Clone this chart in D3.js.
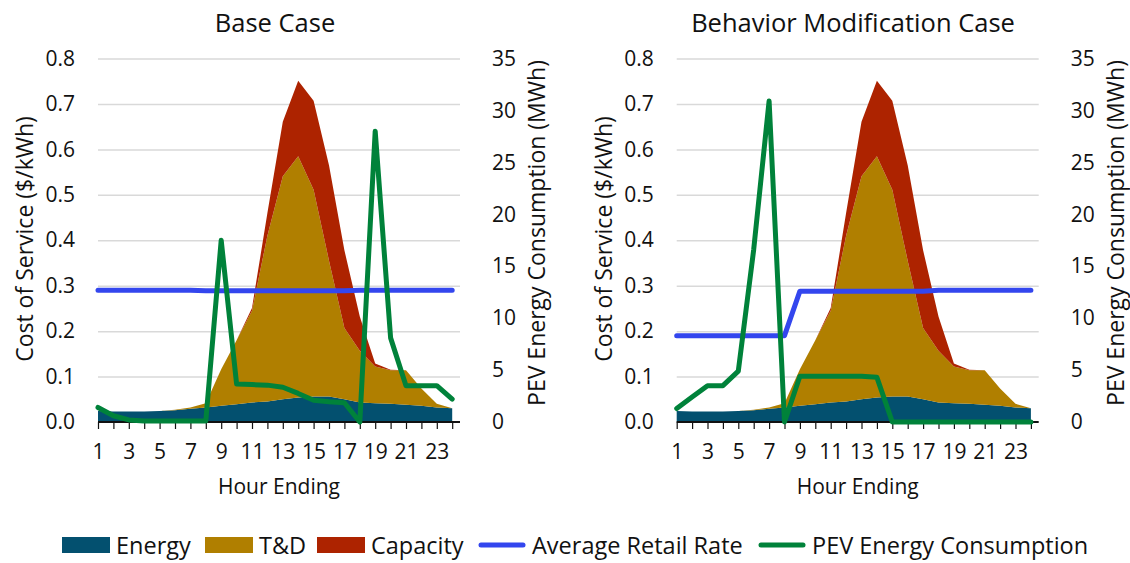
<!DOCTYPE html>
<html>
<head>
<meta charset="utf-8">
<script src="https://cdn.jsdelivr.net/npm/d3@7"></script>
<style>
  html, body { margin: 0; padding: 0; background: #ffffff; }
  svg text { font-family: "Open Sans", "Noto Sans", sans-serif; fill: #111111; }
</style>
</head>
<body>
<svg id="chart" width="1130" height="563"></svg>
<script>
// Hour-ending categories
const hours = [1, 2, 3, 4, 5, 6, 7, 8, 9, 10, 11, 12, 13, 14, 15, 16, 17, 18, 19, 20, 21, 22, 23, 24];
const hourLabels = [1, 3, 5, 7, 9, 11, 13, 15, 17, 19, 21, 23];

// Cost of service components ($/kWh), stacked
const energyCost = [0.024, 0.023, 0.023, 0.023, 0.024, 0.026, 0.029, 0.032, 0.036, 0.039, 0.043, 0.045,
                    0.050, 0.054, 0.056, 0.056, 0.050, 0.043, 0.041, 0.040, 0.038, 0.036, 0.032, 0.030];
const tdCost     = [0.000, 0.000, 0.000, 0.000, 0.000, 0.001, 0.003, 0.009, 0.080, 0.141, 0.202, 0.365,
                    0.491, 0.531, 0.455, 0.299, 0.157, 0.114, 0.081, 0.074, 0.076, 0.038, 0.008, 0.000];
const capacityCost = [0, 0, 0, 0, 0, 0, 0, 0, 0, 0, 0.006, 0.050,
                      0.120, 0.166, 0.196, 0.210, 0.171, 0.075, 0.007, 0.001, 0, 0, 0, 0];

// Average retail rate ($/kWh)
const baseRate = [0.290, 0.290, 0.290, 0.290, 0.290, 0.290, 0.290, 0.289, 0.289, 0.289, 0.289, 0.289,
                  0.289, 0.289, 0.289, 0.289, 0.289, 0.290, 0.290, 0.290, 0.290, 0.290, 0.290, 0.290];
const touRate  = [0.190, 0.190, 0.190, 0.190, 0.190, 0.190, 0.190, 0.190, 0.288, 0.288, 0.288, 0.288,
                  0.288, 0.288, 0.288, 0.288, 0.288, 0.290, 0.290, 0.290, 0.290, 0.290, 0.290, 0.290];

// PEV energy consumption (MWh)
const basePEV = [1.4, 0.6, 0.2, 0.1, 0.1, 0.1, 0.1, 0.1, 17.5, 3.65, 3.6, 3.55,
                 3.35, 2.75, 2.1, 1.95, 1.85, 0.0, 28.0, 8.1, 3.5, 3.5, 3.5, 2.2];
const touPEV  = [1.3, 2.4, 3.5, 3.5, 4.9, 16.6, 30.9, 0.0, 4.4, 4.4, 4.4, 4.4,
                 4.4, 4.3, 0.0, 0.0, 0.0, 0.0, 0.0, 0.0, 0.0, 0.0, 0.0, 0.0];

// Axis ticks
const costTicks = [0, 0.1, 0.2, 0.3, 0.4, 0.5, 0.6, 0.7, 0.8];
const pevTicks = [0, 5, 10, 15, 20, 25, 30, 35];

const panelTitles = ["Base Case", "Behavior Modification Case"];
const seriesNames = ["Energy", "T&D", "Capacity", "Average Retail Rate", "PEV Energy Consumption"];

const colors = {
  energy: "#03506f",
  td: "#b07f00",
  capacity: "#ad2300",
  rate: "#3346ee",
  pev: "#00823a"
};

const panels = [
  { title: panelTitles[0], rate: baseRate, pev: basePEV, left: 98, titleX: 275 },
  { title: panelTitles[1], rate: touRate, pev: touPEV, left: 676.7, titleX: 853 }
];

const svg = d3.select("#chart");
const step = 15.4;
const plotW = 362;
const yBottom = 422, yTop = 58.5;

const rows = hours.map((h, i) => ({ hour: h, energy: energyCost[i], td: tdCost[i], capacity: capacityCost[i] }));
const stacked = d3.stack().keys(["energy", "td", "capacity"])(rows);

panels.forEach(p => {
  const g = svg.append("g").attr("transform", `translate(${p.left},0)`);
  const x = d3.scalePoint().domain(hours).range([0, (hours.length - 1) * step]);
  const y = d3.scaleLinear().domain([0, 0.8]).range([yBottom, yTop]);
  const y2 = d3.scaleLinear().domain([0, 35]).range([yBottom, yTop]);

  // horizontal gridlines
  g.append("g")
    .call(d3.axisLeft(y).tickValues(costTicks.slice(1)).tickSize(-plotW).tickFormat(""))
    .call(s => s.select(".domain").remove())
    .selectAll("line").attr("stroke", "#d9d9d9").attr("stroke-width", 1.5);

  // stacked cost areas
  const area = d3.area()
    .x(d => x(d.data.hour))
    .y0(d => y(d[0]))
    .y1(d => y(d[1]));
  g.selectAll("path.layer").data(stacked).join("path")
    .attr("class", "layer")
    .attr("fill", d => colors[d.key])
    .attr("d", area);

  // category axis
  const xAxis = g.append("g").attr("transform", `translate(0,${yBottom})`)
    .call(d3.axisBottom(x).tickSize(7).tickPadding(15)
      .tickFormat(d => hourLabels.includes(d) ? d : ""));
  xAxis.select(".domain").remove();
  xAxis.selectAll(".tick line").attr("stroke", "#111").attr("stroke-width", 1.2);
  xAxis.selectAll("text").attr("font-size", 21).attr("fill", "#111");
  xAxis.append("line").attr("x1", 0).attr("x2", plotW).attr("y1", 0).attr("y2", 0)
    .attr("stroke", "#111").attr("stroke-width", 2);

  // left value axis
  const yAxis = g.append("g")
    .call(d3.axisLeft(y).tickValues(costTicks).tickSize(0).tickPadding(23).tickFormat(d3.format(".1f")));
  yAxis.select(".domain").remove();
  yAxis.selectAll("text").attr("font-size", 21).attr("fill", "#111");

  // right value axis
  const y2Axis = g.append("g").attr("transform", `translate(${plotW},0)`)
    .call(d3.axisRight(y2).tickValues(pevTicks).tickSize(0).tickPadding(32).tickFormat(d3.format("d")));
  y2Axis.select(".domain").remove();
  y2Axis.selectAll("text").attr("font-size", 21).attr("fill", "#111");

  // average retail rate line
  g.append("path")
    .datum(p.rate)
    .attr("fill", "none")
    .attr("stroke", colors.rate)
    .attr("stroke-width", 5)
    .attr("stroke-linecap", "round")
    .attr("stroke-linejoin", "round")
    .attr("d", d3.line().x((d, i) => x(hours[i])).y(d => y(d)));

  // PEV consumption line on the secondary axis
  g.append("path")
    .datum(p.pev)
    .attr("fill", "none")
    .attr("stroke", colors.pev)
    .attr("stroke-width", 5)
    .attr("stroke-linecap", "round")
    .attr("stroke-linejoin", "round")
    .attr("d", d3.line().x((d, i) => x(hours[i])).y(d => y2(d)));

  // axis titles
  g.append("text")
    .attr("transform", `translate(${24 - 98},${239}) rotate(-90)`)
    .attr("text-anchor", "middle").attr("dominant-baseline", "central")
    .attr("font-size", 23).text("Cost of Service ($/kWh)");
  g.append("text")
    .attr("transform", `translate(${536 - 98},${233}) rotate(-90)`)
    .attr("text-anchor", "middle").attr("dominant-baseline", "central")
    .attr("font-size", 23).text("PEV Energy Consumption (MWh)");
  g.append("text")
    .attr("x", plotW / 2).attr("y", 494)
    .attr("text-anchor", "middle")
    .attr("font-size", 21).text("Hour Ending");

  // panel title
  svg.append("text")
    .attr("x", p.titleX).attr("y", 32)
    .attr("text-anchor", "middle")
    .attr("font-size", 25.5).text(p.title);
});

// legend
const legendItems = [
  { name: seriesNames[0], type: "rect", color: colors.energy, x: 62 },
  { name: seriesNames[1], type: "rect", color: colors.td, x: 205 },
  { name: seriesNames[2], type: "rect", color: colors.capacity, x: 317 },
  { name: seriesNames[3], type: "line", color: colors.rate, x: 478 },
  { name: seriesNames[4], type: "line", color: colors.pev, x: 758 }
];
const legend = svg.append("g").attr("transform", "translate(0,545)");
legendItems.forEach(it => {
  if (it.type === "rect") {
    legend.append("rect").attr("x", it.x).attr("y", -8).attr("width", 48).attr("height", 16).attr("fill", it.color);
  } else {
    legend.append("line").attr("x1", it.x + 3).attr("x2", it.x + 45).attr("y1", 0).attr("y2", 0)
      .attr("stroke", it.color).attr("stroke-width", 5).attr("stroke-linecap", "round");
  }
  legend.append("text").attr("x", it.x + 54).attr("y", 0)
    .attr("dominant-baseline", "central").attr("font-size", 23.5).text(it.name);
});
</script>
</body>
</html>
